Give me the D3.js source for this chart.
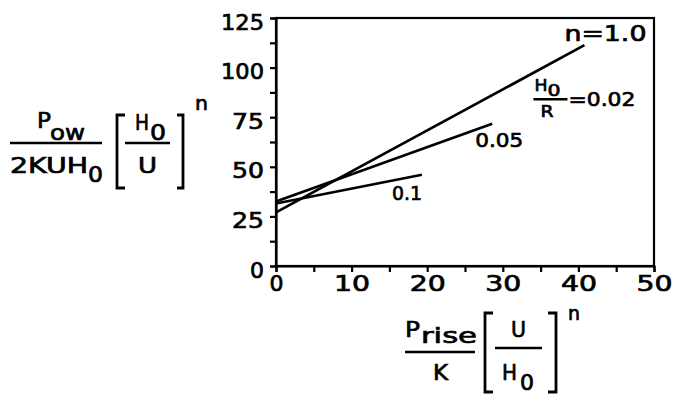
<!DOCTYPE html>
<html>
<head>
<meta charset="utf-8">
<script src="https://cdn.jsdelivr.net/npm/d3@7"></script>
<style>
  html, body { margin: 0; padding: 0; background: #fff; }
  svg { display: block; }
  text { font-family: "DejaVu Sans", sans-serif; fill: #000; stroke: #000; stroke-width: 0.7px; }
</style>
</head>
<body>
<svg id="chart" width="675" height="397"></svg>
<script>
// Fitted straight lines of dimensionless power vs. dimensionless rise, one per H0/R
const ratioLabels = ["0.02", "0.05", "0.1"];
const riseStart = [0, 0, 0];
const riseEnd = [40.8, 28.6, 19.3];
const powerStart = [27, 32.5, 31.5];
const powerEnd = [111.3, 71.7, 46];

const xTicks = [0, 5, 10, 15, 20, 25, 30, 35, 40, 45, 50];
const yTicks = [0, 12.5, 25, 37.5, 50, 62.5, 75, 87.5, 100, 112.5, 125];
const xTickLabels = ["0", "10", "20", "30", "40", "50"];
const yTickLabels = ["0", "25", "50", "75", "100", "125"];

const svg = d3.select("#chart");
const plotLeft = 276, plotRight = 654, plotTop = 18, plotBottom = 266;

const x = d3.scaleLinear().domain([0, 50]).range([plotLeft, plotRight]);
const y = d3.scaleLinear().domain([0, 125]).range([plotBottom, plotTop]);

// frame
svg.append("rect")
  .attr("x", plotLeft).attr("y", plotTop)
  .attr("width", plotRight - plotLeft).attr("height", plotBottom - plotTop)
  .attr("fill", "none").attr("stroke", "#000").attr("stroke-width", 2.2);

// axes
const xAxis = d3.axisBottom(x).tickValues(xTicks).tickSize(6).tickPadding(4)
  .tickFormat(d => xTickLabels.includes(String(d)) ? String(d) : "");
const yAxis = d3.axisLeft(y).tickValues(yTicks).tickSize(6).tickPadding(6)
  .tickFormat(d => yTickLabels.includes(String(d)) ? String(d) : "");

const gx = svg.append("g").attr("transform", `translate(0,${plotBottom})`).call(xAxis);
const gy = svg.append("g").attr("transform", `translate(${plotLeft},0)`).call(yAxis);

[gx, gy].forEach(g => {
  g.select(".domain").attr("stroke", "#000").attr("stroke-width", 2.2);
  g.selectAll(".tick line").attr("stroke", "#000").attr("stroke-width", 2.2);
  g.selectAll(".tick text")
    .attr("font-family", "DejaVu Sans, sans-serif")
    .attr("font-size", 22)
    .attr("fill", "#000");
});
gx.selectAll(".tick text")
  .attr("y", 9).attr("dy", "0.71em")
  .each(function () {
    const t = d3.select(this);
    if (t.text().length === 2) t.attr("textLength", 36).attr("lengthAdjust", "spacingAndGlyphs");
  });
gy.selectAll(".tick text")
  .attr("dy", "0.78em").attr("y", -6)
  .each(function () {
    const t = d3.select(this);
    const n = t.text().length;
    if (n === 2) t.attr("textLength", 32).attr("lengthAdjust", "spacingAndGlyphs");
    if (n === 3) t.attr("textLength", 43).attr("lengthAdjust", "spacingAndGlyphs");
  });

// fitted lines
const line = d3.line().x(d => x(d[0])).y(d => y(d[1]));
const series = ratioLabels.map((r, i) => ({
  ratio: r,
  pts: [[riseStart[i], powerStart[i]], [riseEnd[i], powerEnd[i]]]
}));
svg.append("g").selectAll("path").data(series).join("path")
  .attr("d", d => line(d.pts))
  .attr("fill", "none").attr("stroke", "#000").attr("stroke-width", 2.7);

// text helper: stretched pieces
function piece(str, px, py, w, size) {
  const t = svg.append("text").attr("x", px).attr("y", py)
    .attr("font-size", size).text(str);
  if (w) t.attr("textLength", w).attr("lengthAdjust", "spacingAndGlyphs");
  return t;
}
function hbar(x1, x2, yy) {
  svg.append("line").attr("x1", x1).attr("x2", x2).attr("y1", yy).attr("y2", yy)
    .attr("stroke", "#000").attr("stroke-width", 2.6);
}
function bracket(xv, xs, y1, y2) {
  svg.append("path").attr("d", `M${xs},${y1} H${xv} V${y2} H${xs}`)
    .attr("fill", "none").attr("stroke", "#000").attr("stroke-width", 2.8);
}

// series labels, placed from the line end points
const end = i => [x(riseEnd[i]), y(powerEnd[i])];
{
  const [ex, ey] = end(0);
  piece("n=1.0", ex - 20, ey - 4, 82, 21);
  piece("H", ex - 50, ey + 46, 13, 16);
  piece("0", ex - 37, ey + 51, 13, 16);
  hbar(ex - 51, ex - 17, ey + 54);
  piece("R", ex - 44, ey + 72, 13, 16);
  piece("=0.02", ex - 16, ey + 61, 67, 20);
}
{
  const [ex, ey] = end(1);
  piece("0.05", ex - 17, ey + 23, 48, 20);
}
{
  const [ex, ey] = end(2);
  piece("0.1", ex - 30, ey + 25, 30, 20);
}

// y-axis quantity
piece("P", 37, 128, 14, 21);
piece("ow", 50, 140, 35, 21);
hbar(10, 102, 143);
piece("2KUH", 10, 173, 78, 21);
piece("0", 88, 182, 15, 21);
bracket(117, 125, 115, 188);
piece("H", 135, 130, 14, 21);
piece("0", 150, 140, 16, 21);
hbar(125, 170, 143);
piece("U", 138, 173, 19, 21);
bracket(183, 177, 115, 188);
piece("n", 195, 110, 13, 19);

// x-axis quantity
piece("P", 405, 337, 15, 21);
piece("rise", 421, 343, 56, 21);
hbar(405, 475, 352);
piece("K", 433, 380, 15, 21);
bracket(485, 493, 313, 392);
piece("U", 511, 337, 15, 21);
hbar(495, 542, 348);
piece("H", 502, 380, 15, 21);
piece("0", 520, 390, 14, 21);
bracket(556, 548, 313, 392);
piece("n", 568, 320, 12, 19);
</script>
</body>
</html>
